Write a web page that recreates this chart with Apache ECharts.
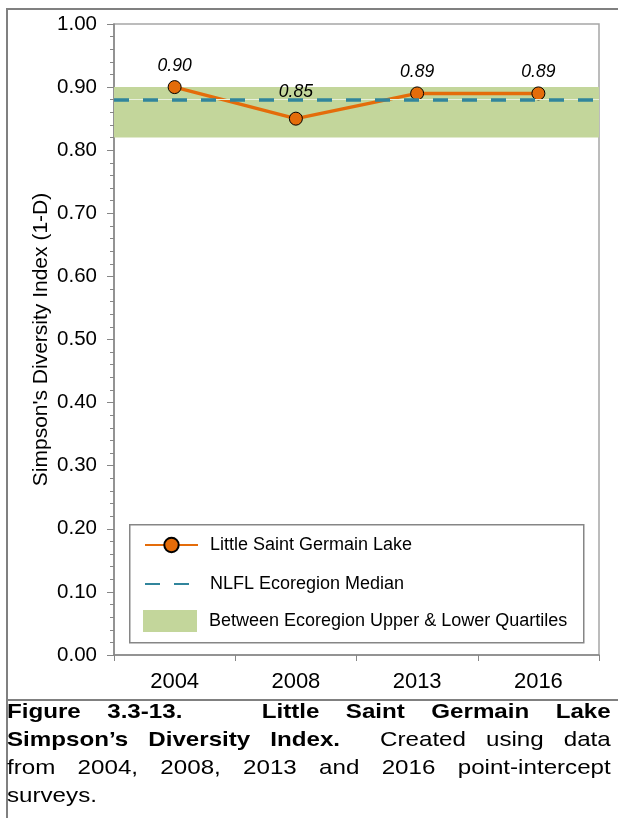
<!DOCTYPE html>
<html>
<head>
<meta charset="utf-8">
<script src="https://cdn.jsdelivr.net/npm/echarts@6/dist/echarts.min.js"></script>
<style>
  html, body { margin: 0; padding: 0; background: #fff; width: 619px; height: 818px; overflow: hidden; }
  #chart { position: absolute; left: 0; top: 0; width: 619px; height: 700px; }
  .frame { position: absolute; background: #808080; }
  #caption { position: absolute; left: 7px; top: 697px; width: 604px; font-family: "Liberation Sans", Arial, sans-serif; font-size: 21px; line-height: 28px; color: #000; }
  #caption .ln, #caption .last { width: 525px; transform: scaleX(1.15); transform-origin: 0 0; white-space: nowrap; }
  #caption .ln { text-align: justify; text-align-last: justify; }
  #caption .last { text-align: left; }
  b { font-weight: bold; }
</style>
</head>
<body>
<div id="chart"></div>
<div class="frame" style="left:6px;top:8px;width:2px;height:810px;"></div>
<div class="frame" style="left:6px;top:8px;width:612px;height:2px;"></div>
<div class="frame" style="left:6px;top:699px;width:612px;height:2px;"></div>
<div id="caption">
  <div class="ln"><b>Figure 3.3-13.&nbsp;&nbsp; Little Saint Germain Lake</b></div>
  <div class="ln"><b>Simpson’s Diversity Index.</b>&nbsp; Created using data</div>
  <div class="ln">from 2004, 2008, 2013 and 2016 point-intercept</div>
  <div class="last">surveys.</div>
</div>
<script>
// ---- data ----
const years = ['2004', '2008', '2013', '2016'];
const lakeValues = [0.90, 0.85, 0.89, 0.89];
const medianValue = [0.88];
const quartileRange = [0.82, 0.90];
const yTicks = [0, 0.1, 0.2, 0.3, 0.4, 0.5, 0.6, 0.7, 0.8, 0.9, 1.0];
const seriesNames = ['Little Saint Germain Lake', 'NLFL Ecoregion Median', 'Between Ecoregion Upper & Lower Quartiles'];

const FONT = '"Liberation Sans", Arial, sans-serif';
const ORANGE = '#E46C0A', BLUE = '#31859C', GREEN = '#C3D69B', AXIS = '#868686';

const chart = echarts.init(document.getElementById('chart'), null, { renderer: 'canvas' });

const option = {
  animation: false,
  textStyle: { fontFamily: FONT },
  grid: { left: 114, right: 20, top: 24, bottom: 45, show: true, borderColor: '#a6a6a6', borderWidth: 1.5, backgroundColor: 'transparent' },
  xAxis: {
    type: 'category',
    data: years,
    boundaryGap: true,
    axisLine: { lineStyle: { color: AXIS, width: 1.5 } },
    axisTick: { show: true, alignWithLabel: false, length: 6, lineStyle: { color: AXIS, width: 1 } },
    axisLabel: { color: '#000', fontSize: 22, margin: 16, fontFamily: FONT }
  },
  yAxis: {
    type: 'value',
    min: 0, max: 1, interval: 0.1,
    name: "Simpson's Diversity Index (1-D)",
    nameLocation: 'middle',
    nameGap: 62,
    nameMoveOverlap: false,
    nameTextStyle: { color: '#000', fontSize: 21, fontFamily: FONT },
    axisLine: { show: true, lineStyle: { color: AXIS, width: 1.5 } },
    axisTick: { show: true, length: 7, lineStyle: { color: AXIS, width: 1 } },
    minorTick: { show: true, splitNumber: 5, length: 4, lineStyle: { color: AXIS, width: 1 } },
    splitLine: { show: false },
    axisLabel: {
      color: '#000', fontSize: 20.5, margin: 17, fontFamily: FONT,
      formatter: v => {
        const t = yTicks.find(x => Math.abs(x - v) < 1e-9);
        return (t !== undefined ? t : v).toFixed(2);
      }
    }
  },
  legend: [
    {
      data: [seriesNames[0], { name: seriesNames[1], itemStyle: { opacity: 0 } }],
      orient: 'vertical',
      left: 144, top: 536,
      itemWidth: 53, itemHeight: 18, itemGap: 21,
      padding: 0,
      textStyle: { color: '#000', fontSize: 18, fontFamily: FONT, padding: [0, 0, 0, 7] },
      selectedMode: false
    },
    {
      data: [{ name: seriesNames[2], icon: 'rect' }],
      orient: 'vertical',
      left: 143, top: 610,
      itemWidth: 54, itemHeight: 22,
      padding: 0,
      textStyle: { color: '#000', fontSize: 18, fontFamily: FONT, padding: [0, 0, 0, 7] },
      selectedMode: false
    }
  ],
  graphic: [
    { type: 'rect', left: 129, top: 524, z: -1, silent: true,
      shape: { width: 454, height: 118 },
      style: { fill: '#fff', stroke: AXIS, lineWidth: 1.5 } }
  ],
  series: [
    {
      name: seriesNames[2],
      type: 'bar',
      data: [],
      z: 1,
      itemStyle: { color: GREEN },
      markArea: {
        silent: true,
        itemStyle: { color: GREEN, opacity: 1 },
        label: { show: false },
        data: [[{ yAxis: quartileRange[0] }, { yAxis: quartileRange[1] }]]
      }
    },
    {
      name: seriesNames[1],
      type: 'line',
      data: [],
      z: 2,
      symbol: 'none',
      itemStyle: { color: BLUE },
      lineStyle: { color: BLUE, width: 3.5, type: [15, 14] },
      markLine: {
        silent: true,
        symbol: ['none', 'none'],
        label: { show: false },
        data: [
          { yAxis: medianValue[0], lineStyle: { color: '#e8f0dc', width: 1, type: 'solid' } },
          { yAxis: medianValue[0], lineStyle: { color: BLUE, width: 3.5, type: [15, 14] } }
        ]
      }
    },
    {
      name: seriesNames[0],
      type: 'line',
      data: lakeValues.map((v, i) => i === 1 ? { value: v, label: { distance: 11 } } : v),
      z: 3,
      symbol: 'circle',
      symbolSize: 13,
      itemStyle: { color: ORANGE, borderColor: '#000', borderWidth: 1 },
      lineStyle: { color: ORANGE, width: 3.5 },
      label: {
        show: true, position: 'top', distance: 5,
        formatter: p => p.value.toFixed(2),
        fontStyle: 'italic', fontSize: 17.5, color: '#000', fontFamily: FONT
      }
    }
  ]
};
chart.setOption(option);
</script>
</body>
</html>
